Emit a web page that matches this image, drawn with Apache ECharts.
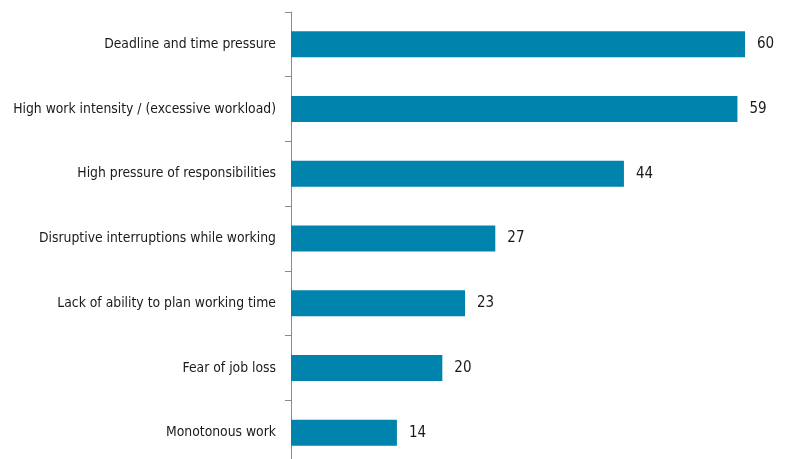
<!DOCTYPE html>
<html><head><meta charset="utf-8">
<script src="https://cdn.jsdelivr.net/npm/echarts@6/dist/echarts.min.js"></script>
<style>html,body{margin:0;padding:0;background:#fff}#c{width:785px;height:459px}</style>
</head><body><div id="c"></div>
<script>
const categories = [
  "Deadline and time pressure",
  "High work intensity / (excessive workload)",
  "High pressure of responsibilities",
  "Disruptive interruptions while working",
  "Lack of ability to plan working time",
  "Fear of job loss",
  "Monotonous work"
];
const values = [60, 59, 44, 27, 23, 20, 14];

const font = '"Liberation Sans Narrow", "DejaVu Sans Condensed", sans-serif';
const chart = echarts.init(document.getElementById('c'), null, {renderer: 'canvas'});
chart.setOption({
  animation: false,
  backgroundColor: '#fff',
  grid: {left: 291, top: 12, width: 454, height: 453, containLabel: false, outerBoundsMode: 'none'},
  xAxis: {type: 'value', min: 0, max: 60, show: false},
  yAxis: {
    type: 'category', inverse: true, data: categories,
    axisLine: {show: true, lineStyle: {color: '#8a8a8a', width: 1}},
    axisTick: {show: true, length: 6, lineStyle: {color: '#8a8a8a'}},
    axisLabel: {margin: 15, fontFamily: font, fontSize: 13.8, color: '#1a1a1a'},
    splitLine: {show: false}
  },
  series: [{
    type: 'bar', data: values, barWidth: 26,
    itemStyle: {color: '#0083ad'},
    label: {show: true, position: 'right', distance: 12, fontFamily: font, fontSize: 15, color: '#1a1a1a'}
  }]
});
</script></body></html>
